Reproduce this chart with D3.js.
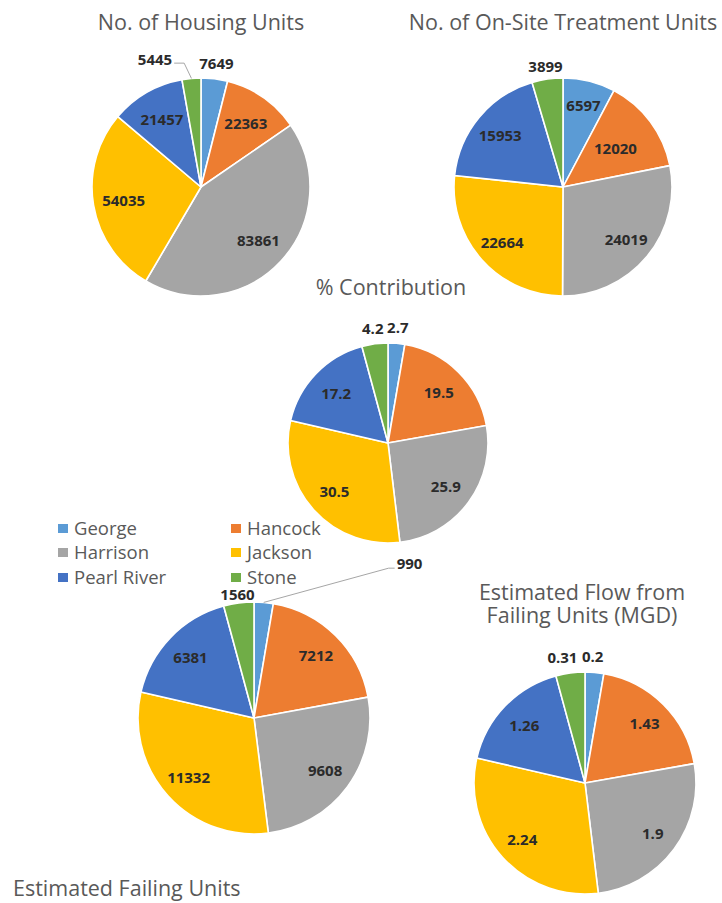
<!DOCTYPE html>
<html>
<head>
<meta charset="utf-8">
<script src="https://cdn.jsdelivr.net/npm/d3@7"></script>
<style>
  html, body { margin: 0; padding: 0; background: #fff; }
  svg { display: block; }
</style>
</head>
<body>
<svg id="chart" width="722" height="903"></svg>
<script>
// ---------------- data ----------------
const categories = ["George", "Hancock", "Harrison", "Jackson", "Pearl River", "Stone"];
const housingUnits = [7649, 22363, 83861, 54035, 21457, 5445];
const onSiteUnits = [6597, 12020, 24019, 22664, 15953, 3899];
const pctContribution = [2.7, 19.5, 25.9, 30.5, 17.2, 4.2];
const failingUnits = [990, 7212, 9608, 11332, 6381, 1560];
const flowMGD = [0.2, 1.43, 1.9, 2.24, 1.26, 0.31];
const chartTitles = [
  ["No. of Housing Units"],
  ["No. of On-Site Treatment Units"],
  ["% Contribution"],
  ["Estimated Failing Units"],
  ["Estimated Flow from", "Failing Units (MGD)"]
];

// ---------------- styles / layout ----------------
const colors = ["#5B9BD5", "#ED7D31", "#A5A5A5", "#FFC000", "#4472C4", "#70AD47"];
const color = d3.scaleOrdinal().domain(categories).range(colors);
const FONT = "'Open Sans', 'Noto Sans', sans-serif";

const layout = [
  { values: housingUnits, cx: 201, cy: 187, r: 109, inR: 0.72, outR: 1.15, outside: [0, 5],
    override: { 5: { dx: -35, dy: -3, leader: true } }, inOverride: {},
    title: { x: 201, y: 30, anchor: "middle" } },
  { values: onSiteUnits, cx: 563, cy: 187, r: 109, inR: 0.75, outR: 1.12, outside: [5],
    override: {}, inOverride: { 0: 0.78, 1: 0.6 },
    title: { x: 563, y: 30, anchor: "middle" } },
  { values: pctContribution, cx: 388, cy: 443, r: 100, inR: 0.72, outR: 1.16, outside: [0, 5],
    override: {}, inOverride: {},
    title: { x: 391, y: 295, anchor: "middle" } },
  { values: failingUnits, cx: 254, cy: 718, r: 116, inR: 0.76, outR: 1.08, outside: [0, 5],
    override: { 0: { dx: 145, dy: -30, leader: true } }, inOverride: {},
    title: { x: 13, y: 896, anchor: "start" } },
  { values: flowMGD, cx: 585, cy: 783, r: 111, inR: 0.76, outR: 1.13, outside: [0, 5],
    override: { 0: { dx: -3, dy: -2, leader: false }, 5: { dx: -6, dy: -2, leader: false } }, inOverride: {},
    title: { x: 582, y: 600, anchor: "middle", lineH: 23 } }
];

const svg = d3.select("#chart");
svg.append("rect").attr("width", 722).attr("height", 903).attr("fill", "#fff");

const pie = d3.pie().sort(null).value(d => d.value).startAngle(0).endAngle(2 * Math.PI);

layout.forEach((L, ci) => {
  const data = categories.map((c, i) => ({ cat: c, value: L.values[i], i }));
  const arcs = pie(data);
  const arc = d3.arc().innerRadius(0).outerRadius(L.r);
  const g = svg.append("g").attr("transform", `translate(${L.cx},${L.cy})`);

  g.selectAll("path.slice").data(arcs).join("path")
    .attr("class", "slice")
    .attr("d", arc)
    .attr("fill", d => color(d.data.cat))
    .attr("stroke", "#fff")
    .attr("stroke-width", 1.6)
    .attr("stroke-linejoin", "round");

  const labelG = g.append("g");
  arcs.forEach(d => {
    const i = d.data.i;
    const mid = (d.startAngle + d.endAngle) / 2;
    const isOut = L.outside.includes(i);
    const f = isOut ? L.outR : (L.inOverride[i] != null ? L.inOverride[i] : L.inR);
    let x = Math.sin(mid) * L.r * f;
    let y = -Math.cos(mid) * L.r * f;
    const ov = L.override[i];
    if (ov) { x += ov.dx; y += ov.dy; }
    const t = labelG.append("text")
      .attr("x", x).attr("y", y)
      .attr("text-anchor", "middle")
      .attr("dominant-baseline", "central")
      .attr("font-family", FONT)
      .attr("font-weight", 700)
      .attr("font-size", 15)
      .attr("fill", "#2b2b2b")
      .text(String(d.data.value));
    if (ov && ov.leader) {
      const w = t.node().getComputedTextLength();
      const ex = Math.sin(mid) * L.r, ey = -Math.cos(mid) * L.r;
      let pts;
      if (ov.dx < 0) {
        pts = [[x + w / 2 + 2, y + 4], [x + w / 2 + 12, y + 4], [ex, ey]];
      } else {
        pts = [[x - w / 2 - 2, y + 5], [x - w / 2 - 8, y + 5], [ex, ey]];
      }
      labelG.append("path")
        .attr("d", d3.line()(pts))
        .attr("fill", "none")
        .attr("stroke", "#a6a6a6")
        .attr("stroke-width", 1);
    }
  });

  // title (one text element per line)
  const T = L.title;
  chartTitles[ci].forEach((line, k) => {
    svg.append("text")
      .attr("x", T.x).attr("y", T.y + k * (T.lineH || 0))
      .attr("text-anchor", T.anchor)
      .attr("font-family", FONT)
      .attr("font-size", 21.5)
      .attr("fill", "#595959")
      .text(line);
  });
});

// ---------------- legend ----------------
const legend = svg.append("g").attr("class", "legend");
const legendCols = [58, 231];
const legendRows = [535, 559, 584];
categories.forEach((c, i) => {
  const x = legendCols[i % 2];
  const y = legendRows[Math.floor(i / 2)];
  legend.append("rect")
    .attr("x", x).attr("y", y - 11)
    .attr("width", 10).attr("height", 9)
    .attr("fill", color(c));
  legend.append("text")
    .attr("x", x + 16).attr("y", y)
    .attr("font-family", FONT)
    .attr("font-size", 18.5)
    .attr("fill", "#595959")
    .text(c);
});
</script>
</body>
</html>
